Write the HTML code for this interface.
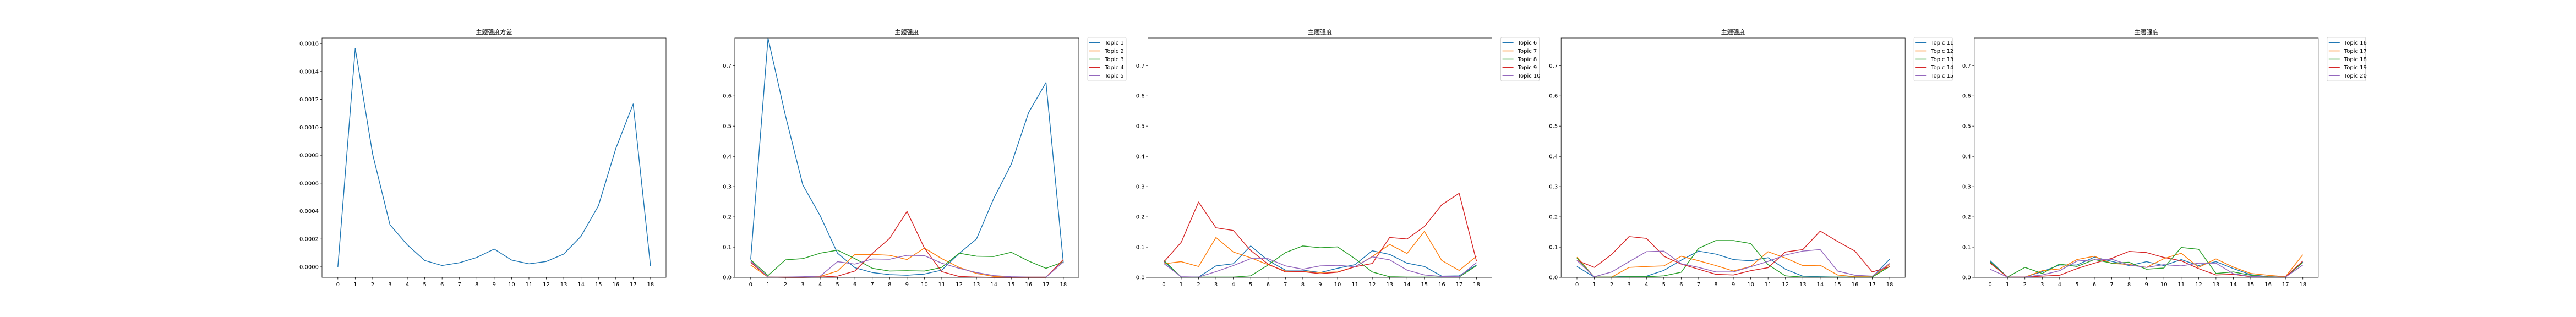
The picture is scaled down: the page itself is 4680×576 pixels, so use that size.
<!DOCTYPE html>
<html><head><meta charset="utf-8"><style>
html,body{margin:0;padding:0;background:#fff}
svg{display:block}
text{font-family:"DejaVu Sans","Liberation Sans","Noto Sans CJK SC",sans-serif;fill:#000}
</style></head><body>
<svg id="fig" width="4680" height="576" xmlns="http://www.w3.org/2000/svg"></svg>
<script>
const categories = [0,1,2,3,4,5,6,7,8,9,10,11,12,13,14,15,16,17,18];
const varianceValues = [0,0.001565,0.000809,0.000302,0.000158,0.000046,0.00001,0.00003,0.000068,0.000128,0.000049,0.000022,0.000039,0.000092,0.00022,0.000438,0.000848,0.001167,0.000004];
const varianceTicks = ["0.0000","0.0002","0.0004","0.0006","0.0008","0.0010","0.0012","0.0014","0.0016"];
const intensityTicks = ["0.0","0.1","0.2","0.3","0.4","0.5","0.6","0.7"];
const topicNames = ["Topic 1","Topic 2","Topic 3","Topic 4","Topic 5","Topic 6","Topic 7","Topic 8","Topic 9","Topic 10","Topic 11","Topic 12","Topic 13","Topic 14","Topic 15","Topic 16","Topic 17","Topic 18","Topic 19","Topic 20"];
const topic1 = [0.059,0.791,0.535,0.306,0.204,0.08,0.032,0.016,0.009,0.007,0.011,0.024,0.079,0.127,0.262,0.374,0.545,0.644,0.047];
const topic2 = [0.041,0.001,0.001,0.001,0.003,0.021,0.076,0.076,0.073,0.059,0.097,0.062,0.033,0.013,0.003,0.001,0.001,0.001,0.058];
const topic3 = [0.058,0.006,0.058,0.062,0.08,0.09,0.062,0.03,0.021,0.022,0.021,0.033,0.08,0.07,0.069,0.083,0.054,0.03,0.051];
const topic4 = [0.05,0.001,0,0,0.001,0.004,0.021,0.079,0.129,0.218,0.097,0.019,0.003,0.001,0,0,0,0,0.059];
const topic5 = [0.054,0.001,0.001,0.002,0.004,0.052,0.044,0.061,0.06,0.073,0.072,0.047,0.03,0.016,0.006,0.002,0.001,0.001,0.051];
const topic6 = [0.053,0.001,0.001,0.038,0.045,0.104,0.056,0.024,0.024,0.016,0.03,0.042,0.088,0.076,0.047,0.036,0.004,0.005,0.041];
const topic7 = [0.045,0.052,0.036,0.132,0.084,0.065,0.042,0.021,0.019,0.016,0.018,0.035,0.069,0.109,0.079,0.152,0.056,0.023,0.07];
const topic8 = [0.056,0.001,0.001,0.001,0.001,0.005,0.041,0.082,0.104,0.098,0.101,0.062,0.018,0.002,0.001,0.001,0.001,0.001,0.039];
const topic9 = [0.051,0.116,0.249,0.164,0.155,0.089,0.044,0.018,0.019,0.012,0.017,0.035,0.046,0.132,0.127,0.168,0.24,0.278,0.053];
const topic10 = [0.046,0.002,0.001,0.019,0.039,0.062,0.062,0.038,0.027,0.038,0.04,0.035,0.068,0.058,0.024,0.008,0.003,0.002,0.049];
const topic11 = [0.036,0.001,0.001,0.004,0.004,0.023,0.057,0.087,0.077,0.059,0.055,0.065,0.027,0.004,0.002,0.001,0.001,0.001,0.06];
const topic12 = [0.067,0.001,0.001,0.033,0.036,0.038,0.07,0.055,0.039,0.021,0.036,0.085,0.064,0.039,0.04,0.008,0.002,0.002,0.042];
const topic13 = [0.064,0.001,0.001,0.002,0.002,0.005,0.017,0.096,0.122,0.122,0.112,0.042,0.005,0.001,0.001,0.001,0.001,0.001,0.036];
const topic14 = [0.056,0.033,0.076,0.135,0.129,0.07,0.044,0.027,0.01,0.008,0.022,0.032,0.084,0.092,0.153,0.119,0.087,0.018,0.035];
const topic15 = [0.056,0.002,0.018,0.052,0.085,0.087,0.045,0.033,0.018,0.018,0.035,0.053,0.074,0.087,0.092,0.021,0.007,0.004,0.046];
const topic16 = [0.055,0.001,0.001,0.019,0.041,0.041,0.067,0.053,0.039,0.052,0.039,0.059,0.039,0.052,0.029,0.009,0.002,0.001,0.051];
const topic17 = [0.048,0.001,0.001,0.022,0.028,0.059,0.07,0.046,0.043,0.033,0.062,0.08,0.033,0.061,0.034,0.013,0.007,0.002,0.075];
const topic18 = [0.051,0.001,0.033,0.013,0.044,0.036,0.059,0.047,0.05,0.027,0.031,0.099,0.093,0.013,0.018,0.007,0.002,0.001,0.049];
const topic19 = [0.047,0.001,0.001,0.004,0.007,0.029,0.047,0.063,0.086,0.082,0.066,0.055,0.029,0.008,0.01,0.002,0.001,0.001,0.054];
const topic20 = [0.027,0.001,0.001,0.008,0.022,0.054,0.058,0.06,0.041,0.033,0.042,0.038,0.047,0.047,0.012,0.003,0.001,0.001,0.041];

const allTopics=[topic1,topic2,topic3,topic4,topic5,topic6,topic7,topic8,topic9,topic10,topic11,topic12,topic13,topic14,topic15,topic16,topic17,topic18,topic19,topic20];
const colors=["#1f77b4","#ff7f0e","#2ca02c","#d62728","#9467bd"];
const NS="http://www.w3.org/2000/svg";
const fig=document.getElementById('fig');
function mk(tag,attrs,parent){const e=document.createElementNS(NS,tag);for(const k in attrs)e.setAttribute(k,attrs[k]);(parent||fig).appendChild(e);return e;}

function panel(idx,left,title,series,ymin,ymax,yticks,tickVals,legendStart){
  const right=left+625, top=69, bottom=504;
  const g=mk('g',{});
  
  
  const x0=left+28.8, x18=left+596.9;
  const xs=v=>x0+(v-categories[0])*(x18-x0)/(categories[categories.length-1]-categories[0]);
  const ys=v=>bottom-(v-ymin)*(bottom-top)/(ymax-ymin);
  const t=mk('text',{x:(left+right)/2,y:62,'font-size':11,'text-anchor':'middle'},g);
  t.textContent=title;
  
  
  categories.forEach(c=>{
    const x=xs(c);
    mk('line',{x1:x,x2:x,y1:bottom,y2:bottom+3.5,stroke:'#000','stroke-width':0.8},g);
    const tx=mk('text',{x:x,y:bottom+16,'font-size':10,'text-anchor':'middle'},g);
    tx.textContent=String(c);
    
    
  });
  yticks.forEach((lab,i)=>{
    const y=ys(tickVals[i]);
    mk('line',{x1:left-3.5,x2:left,y1:y,y2:y,stroke:'#000','stroke-width':0.8},g);
    const ty=mk('text',{x:left-6,y:y+3.5,'font-size':10,'text-anchor':'end'},g);
    ty.textContent=lab;
    
    
  });
  series.forEach((s,si)=>{
    const p=mk('polyline',{points:s.map((v,i)=>xs(categories[i]).toFixed(2)+','+ys(v).toFixed(2)).join(' '),fill:'none',stroke:colors[si],'stroke-width':1.5,'stroke-linejoin':'round'},g);
    
    
  });
  const fr=mk('rect',{x:left,y:top,width:right-left,height:bottom-top,fill:'none',stroke:'#000','stroke-width':0.8},g);
  
  
  if(legendStart!=null){
    const lx=right+16;
    const lg=mk('g',{},g);
    
    
    mk('rect',{x:lx,y:68,width:70,height:79,rx:2,fill:'#fff',stroke:'#ccc','stroke-width':0.8},lg);
    for(let k=0;k<5;k++){
      const y=77.5+k*15;
      const ent=mk('g',{},lg);
      
      
      mk('line',{x1:lx+3,x2:lx+23,y1:y,y2:y,stroke:colors[k],'stroke-width':1.5},ent);
      const tt=mk('text',{x:lx+31,y:y+3.5,'font-size':10},ent);
      tt.textContent=topicNames[legendStart+k];
    }
  }
}
const vTickVals=varianceTicks.map(Number);
const iTickVals=intensityTicks.map(Number);
panel(0,585,'主题强度方差',[varianceValues],-0.000075,0.00164,varianceTicks,vTickVals,null);
for(let p=0;p<4;p++){
  panel(p+1,1335+p*750.6,'主题强度',allTopics.slice(p*5,p*5+5),0,0.7915,intensityTicks,iTickVals,p*5);
}
</script>
</body></html>
